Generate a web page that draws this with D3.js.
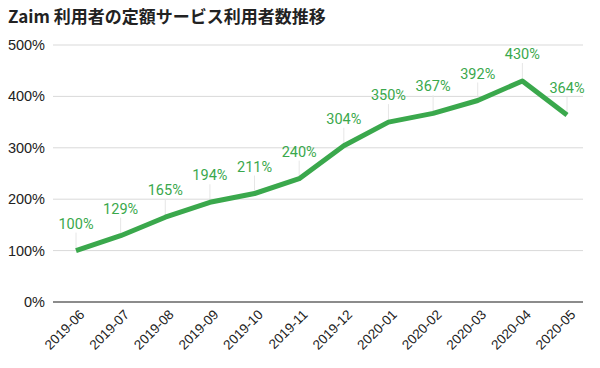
<!DOCTYPE html>
<html><head><meta charset="utf-8">
<script src="https://cdn.jsdelivr.net/npm/d3@7"></script>
<style>body{margin:0;background:#fff}svg{display:block}</style>
</head><body>
<svg id="c" width="600" height="368"></svg>
<script>
const categories = ["2019-06","2019-07","2019-08","2019-09","2019-10","2019-11","2019-12","2020-01","2020-02","2020-03","2020-04","2020-05"];
const values = [100,129,165,194,211,240,304,350,367,392,430,364];
const yTicks = [0,100,200,300,400,500];
const title = "Zaim 利用者の定額サービス利用者数推移";

const svg = d3.select("#c");
const x = d3.scalePoint().domain(categories).range([76, 567]);
const y = d3.scaleLinear().domain([0,500]).range([302, 45]);
const green = "#3aa84c";
const font = "Roboto, 'Noto Sans CJK JP', sans-serif";
const sans = "'Liberation Sans', Arial, sans-serif";

svg.append("text").attr("x",8).attr("y",23).attr("font-family","'Noto Sans CJK JP', Roboto, sans-serif")
  .attr("font-weight","bold").attr("font-size",17).attr("fill","#222").text(title);

const g = svg.append("g");
g.selectAll("line.grid").data(yTicks).join("line")
  .attr("x1",53).attr("x2",583).attr("y1",d=>y(d)).attr("y2",d=>y(d))
  .attr("stroke",d=>d===0?"#666":"#d9d9d9").attr("stroke-width",d=>d===0?1.5:1);
g.selectAll("text.yt").data(yTicks).join("text")
  .attr("x",45).attr("y",d=>y(d)).attr("dy","0.35em").attr("text-anchor","end")
  .attr("font-family",sans).attr("font-size",14.5).attr("fill","#222")
  .text(d=>d+"%");

g.selectAll("text.xt").data(categories).join("text")
  .attr("transform",d=>`translate(${x(d)+6},${312}) rotate(-45)`)
  .attr("text-anchor","end").attr("dy","0.35em")
  .attr("font-family",sans).attr("font-size",13.5).attr("fill","#222")
  .text(d=>d);

const off = 27;
g.selectAll("line.lead").data(values).join("line")
  .attr("x1",(d,i)=>x(categories[i])).attr("x2",(d,i)=>x(categories[i]))
  .attr("y1",d=>y(d)-off+9).attr("y2",d=>y(d))
  .attr("stroke","#e6e6e6").attr("stroke-width",1);

const line = d3.line().x((d,i)=>x(categories[i])).y(d=>y(d));
g.append("path").datum(values).attr("d",line).attr("fill","none")
  .attr("stroke",green).attr("stroke-width",5).attr("stroke-linejoin","round");

g.selectAll("text.lbl").data(values).join("text")
  .attr("x",(d,i)=>x(categories[i])).attr("y",d=>y(d)-off).attr("dy","0.35em")
  .attr("text-anchor","middle").attr("font-family",font).attr("font-size",14.5)
  .attr("fill",green).text(d=>d+"%");
</script>
</body></html>
